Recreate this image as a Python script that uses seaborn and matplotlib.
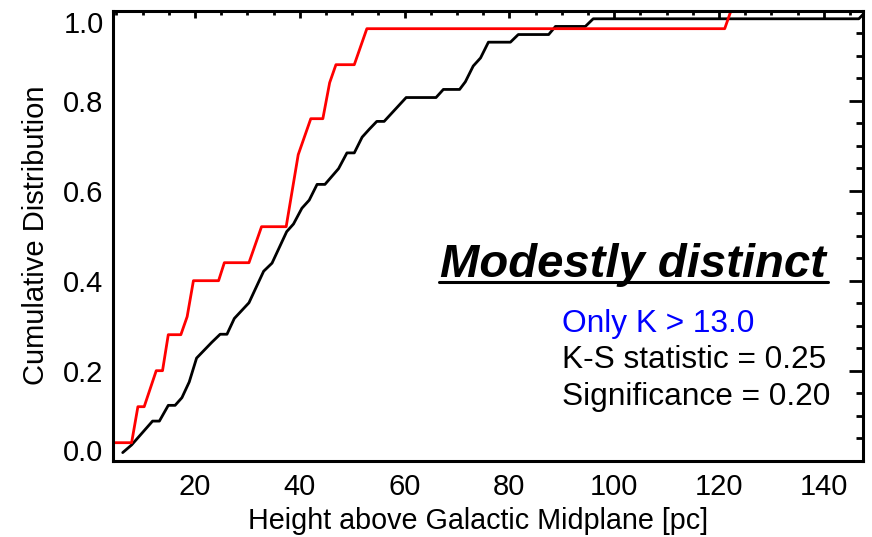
import matplotlib
matplotlib.use("Agg")
import matplotlib.pyplot as plt
from matplotlib.ticker import MultipleLocator
from matplotlib.lines import Line2D
import seaborn as sns
import pandas as pd

# Cumulative distributions of height above the midplane
red_x = [4.0, 7.9, 9.1, 10.3, 12.6, 13.8, 14.9, 17.3, 18.5, 19.7, 24.5, 25.6,
         30.3, 32.7, 37.4, 39.7, 42.1, 44.4, 45.7, 46.9, 50.4, 52.8, 121.1, 122.3]
red_y = [0.04, 0.04, 0.12, 0.12, 0.20, 0.20, 0.28, 0.28, 0.32, 0.40, 0.40, 0.44,
         0.44, 0.52, 0.52, 0.68, 0.76, 0.76, 0.84, 0.88, 0.88, 0.96, 0.96, 1.00]

black_x = [6.2, 7.9, 11.9, 13.2, 14.9, 16.2, 17.5, 18.9, 20.3, 23.2,
           24.8, 26.1, 27.5, 30.3, 33.1, 34.7, 37.5, 38.8, 40.4, 41.8,
           43.3, 44.8, 47.4, 49.0, 50.4, 51.9, 53.3, 54.7, 56.1, 60.3,
           66.0, 67.4, 70.5, 71.6, 73.1, 74.5, 76.0, 80.2, 81.7, 87.5,
           88.8, 94.5, 96.0, 146.7, 148.2]
black_y = [0.018, 0.035, 0.088, 0.088, 0.123, 0.123, 0.140, 0.175, 0.228, 0.263,
           0.281, 0.281, 0.316, 0.351, 0.421, 0.439, 0.509, 0.526, 0.561, 0.579,
           0.614, 0.614, 0.649, 0.684, 0.684, 0.719, 0.737, 0.754, 0.754, 0.807,
           0.807, 0.825, 0.825, 0.842, 0.877, 0.895, 0.930, 0.930, 0.947, 0.947,
           0.965, 0.965, 0.982, 0.982, 1.000]

x_ticks = [20, 40, 60, 80, 100, 120, 140]
y_ticks = [0.0, 0.2, 0.4, 0.6, 0.8, 1.0]
title_text = "Modestly distinct"
subset_text = "Only K > 13.0"
stat_lines = ["K-S statistic = 0.25", "Significance = 0.20"]

sns.set_style("white")
plt.rcParams["font.family"] = ["Liberation Sans", "DejaVu Sans"]
plt.rcParams["text.color"] = "black"
plt.rcParams["axes.labelcolor"] = "black"

fig = plt.figure(figsize=(8.72, 5.37), dpi=100)
ax = fig.add_axes([0.1299, 0.1421, 0.8598, 0.838])

black_df = pd.DataFrame({"x": black_x, "y": black_y})
red_df = pd.DataFrame({"x": red_x, "y": red_y})
sns.lineplot(data=black_df, x="x", y="y", sort=False, estimator=None,
             color="black", lw=2.0, ax=ax)
sns.lineplot(data=red_df, x="x", y="y", sort=False, estimator=None,
             color="#ff0000", lw=2.0, ax=ax)

ax.set_xlim(4.4, 147.5)
ax.set_ylim(0.0, 1.0)
ax.set_xticks(x_ticks)
ax.set_yticks(y_ticks)
ax.set_yticklabels([f"{v:.1f}" for v in y_ticks])
ax.xaxis.set_minor_locator(MultipleLocator(5))
ax.yaxis.set_minor_locator(MultipleLocator(0.05))

for s in ax.spines.values():
    s.set_linewidth(2.2)
    s.set_color("black")

ax.tick_params(axis="both", which="both", direction="in", top=True, right=True,
               color="black", width=2.0, labelsize=21, labelcolor="black")
ax.tick_params(axis="x", which="major", length=5.3, pad=9.0)
ax.tick_params(axis="x", which="minor", length=2.9)
ax.tick_params(axis="y", which="major", length=10.0, pad=7.0)
ax.tick_params(axis="y", which="minor", length=5.0)

ylabels = ax.get_yticklabels()
ylabels[0].set_va("baseline")
ylabels[-1].set_va("top")

ax.set_xlabel("Height above Galactic Midplane [pc]", fontsize=20.7, color="black")
ax.set_ylabel("Cumulative Distribution", fontsize=21, color="black")
ax.xaxis.set_label_coords(0.487, -0.102)
ax.yaxis.set_label_coords(-0.084, 0.5)

title = ax.text(66.8, 0.409, title_text, fontsize=34, fontweight="bold",
                fontstyle="italic", color="black", ha="left", va="baseline")
ax.text(90.05, 0.2867, subset_text, fontsize=22.8, color="#0000ff",
        ha="left", va="baseline")
ax.text(90.05, 0.2053, stat_lines[0], fontsize=22.8, color="black",
        ha="left", va="baseline")
ax.text(90.05, 0.1238, stat_lines[1], fontsize=22.8, color="black",
        ha="left", va="baseline")

# underline the verdict a few pixels below its baseline, across its width
fig.canvas.draw()
bb = title.get_window_extent(renderer=fig.canvas.get_renderer())
base_y = ax.transData.transform((66.8, 0.409))[1] - 5.5
inv = fig.transFigure.inverted()
(x0, y0), (x1, _) = inv.transform([(bb.x0 - 1, base_y), (bb.x1 + 2, base_y)])
fig.add_artist(Line2D([x0, x1], [y0, y0], transform=fig.transFigure,
                      color="black", lw=2.2))

fig.savefig("out.png", dpi=100)
